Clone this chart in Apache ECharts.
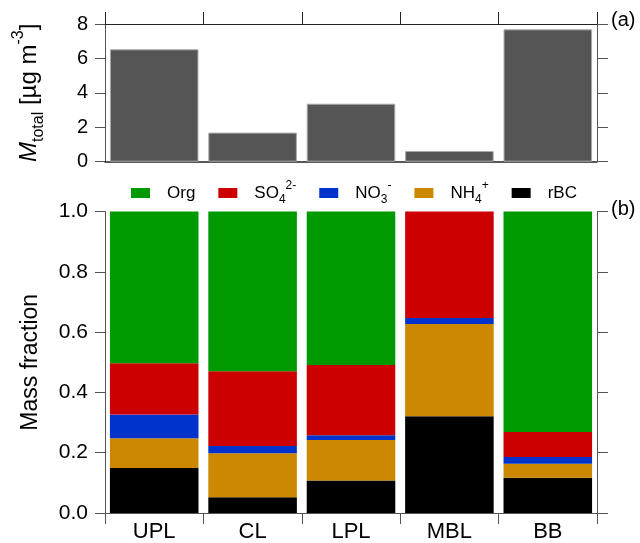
<!DOCTYPE html>
<html>
<head>
<meta charset="utf-8">
<script src="https://cdn.jsdelivr.net/npm/echarts@6/dist/echarts.min.js"></script>
<style>
html,body{margin:0;padding:0;background:#fff;}
#chart{width:640px;height:543px;}
</style>
</head>
<body>
<div id="chart"></div>
<script>
const categories = ['UPL', 'CL', 'LPL', 'MBL', 'BB'];
const totalMass = [6.53, 1.69, 3.37, 0.62, 7.69];
const rBC = [0.149, 0.052, 0.108, 0.321, 0.117];
const NH4 = [0.099, 0.146, 0.134, 0.306, 0.046];
const NO3 = [0.079, 0.024, 0.016, 0.020, 0.023];
const SO4 = [0.170, 0.248, 0.233, 0.353, 0.083];
const Org = [0.503, 0.530, 0.509, 0.000, 0.731];
const topTicks = [0, 2, 4, 6, 8];
const bottomTicks = [0, 0.2, 0.4, 0.6, 0.8, 1.0];

const FONT = 'Liberation Sans, Arial, Helvetica, sans-serif';
const AX = '#555';

const legendNames = {
  Org: '{n|Org}',
  SO4: '{n|SO}{sub|4}{sup|2-}',
  NO3: '{n|NO}{sub|3}{sup|-}',
  NH4: '{n|NH}{sub|4}{sup|+}',
  rBC: '{n|rBC}'
};

const chart = echarts.init(document.getElementById('chart'), null, {renderer: 'canvas'});

function stackSeries(name, data, color) {
  return {
    name: name, type: 'bar', stack: 'frac', xAxisIndex: 2, yAxisIndex: 2,
    data: data, barCategoryGap: '10%',
    itemStyle: {color: color},
    emphasis: {disabled: true}, animation: false
  };
}

const option = {
  animation: false,
  textStyle: {fontFamily: FONT},
  grid: [
    {left: 105, right: 43, top: 24, height: 137.7},
    {left: 105, right: 43, top: 211.5, height: 305}
  ],
  legend: {
    data: ['Org', 'SO4', 'NO3', 'NH4', 'rBC'],
    left: 126, top: 175,
    itemWidth: 19, itemHeight: 10, itemGap: 23,
    icon: 'rect',
    formatter: function (n) { return legendNames[n]; },
    textStyle: {
      fontFamily: FONT, color: '#000', padding: [0, 0, 0, 12],
      rich: {
        n: {fontSize: 17, lineHeight: 26, color: '#000', fontFamily: FONT},
        sub: {fontSize: 12, lineHeight: 12, verticalAlign: 'bottom', color: '#000', fontFamily: FONT},
        sup: {fontSize: 12, lineHeight: 12, verticalAlign: 'top', color: '#000', fontFamily: FONT}
      }
    },
    selectedMode: false
  },
  xAxis: [
    {
      type: 'category', gridIndex: 0, data: categories, position: 'bottom',
      axisLine: {onZero: false, lineStyle: {color: '#222', width: 1.5}},
      axisTick: {show: false}, axisLabel: {show: false}
    },
    {
      type: 'category', gridIndex: 0, data: categories, position: 'top',
      axisLine: {onZero: false, lineStyle: {color: '#222', width: 1}},
      axisTick: {show: true, length: 12, lineStyle: {color: '#222'}},
      axisLabel: {show: false}
    },
    {
      type: 'category', gridIndex: 1, data: categories, position: 'bottom',
      axisLine: {onZero: false, lineStyle: {color: AX, width: 1}},
      axisTick: {show: true, length: 11, lineStyle: {color: AX}},
      axisLabel: {fontSize: 22, color: '#000', margin: 8, fontFamily: FONT}
    }
  ],
  yAxis: [
    {
      type: 'value', gridIndex: 0, min: 0, max: 8, interval: 2, position: 'left',
      axisLine: {show: true, lineStyle: {color: AX}},
      axisTick: {show: true, length: 10, lineStyle: {color: AX}},
      splitLine: {show: false},
      axisLabel: {fontSize: 20, color: '#000', margin: 17, fontFamily: FONT,
        formatter: function (v) { return topTicks.indexOf(v) >= 0 ? String(v) : ''; }},
      name: '{i|M}{sub|total}{n| [µg m}{sup|-3}{n|]}',
      nameLocation: 'middle', nameRotate: 90, nameGap: 58,
      nameTextStyle: {
        rich: {
          n: {fontSize: 24, lineHeight: 36, color: '#000', fontFamily: FONT},
          i: {fontSize: 24, lineHeight: 36, color: '#000', fontStyle: 'italic', fontFamily: FONT},
          sub: {fontSize: 16, lineHeight: 16, verticalAlign: 'bottom', color: '#000', fontFamily: FONT},
          sup: {fontSize: 16, lineHeight: 16, verticalAlign: 'top', color: '#000', fontFamily: FONT}
        }
      }
    },
    {
      type: 'value', gridIndex: 0, min: 0, max: 8, interval: 2, position: 'right',
      axisLine: {show: true, lineStyle: {color: AX}},
      axisTick: {show: true, length: 11, lineStyle: {color: AX}},
      splitLine: {show: false}, axisLabel: {show: false}
    },
    {
      type: 'value', gridIndex: 1, min: 0, max: 1, interval: 0.2, position: 'left',
      axisLine: {show: true, lineStyle: {color: AX}},
      axisTick: {show: true, length: 10, lineStyle: {color: AX}},
      splitLine: {show: false},
      axisLabel: {fontSize: 21, color: '#000', margin: 17, fontFamily: FONT,
        formatter: function (v) { return v.toFixed(1); }},
      name: 'Mass fraction', nameLocation: 'middle', nameRotate: 90, nameGap: 63,
      nameTextStyle: {fontSize: 23, color: '#000', fontFamily: FONT}
    },
    {
      type: 'value', gridIndex: 1, min: 0, max: 1, interval: 0.2, position: 'right',
      axisLine: {show: true, lineStyle: {color: AX}},
      axisTick: {show: true, length: 11, lineStyle: {color: AX}},
      splitLine: {show: false}, axisLabel: {show: false}
    }
  ],
  graphic: [
    {type: 'text', left: 611, top: 10, style: {text: '(a)', fontSize: 20, fill: '#000', fontFamily: FONT}},
    {type: 'text', left: 611, top: 199, style: {text: '(b)', fontSize: 20, fill: '#000', fontFamily: FONT}}
  ],
  series: [
    {
      name: 'Mtotal', type: 'bar', xAxisIndex: 0, yAxisIndex: 0, data: totalMass,
      barCategoryGap: '10%',
      itemStyle: {color: '#555555', borderColor: '#aaaaaa', borderWidth: 1},
      emphasis: {disabled: true}
    },
    stackSeries('rBC', rBC, '#000000'),
    stackSeries('NH4', NH4, '#cc8800'),
    stackSeries('NO3', NO3, '#0033cc'),
    stackSeries('SO4', SO4, '#cc0000'),
    stackSeries('Org', Org, '#009900')
  ]
};
chart.setOption(option);
</script>
</body>
</html>
